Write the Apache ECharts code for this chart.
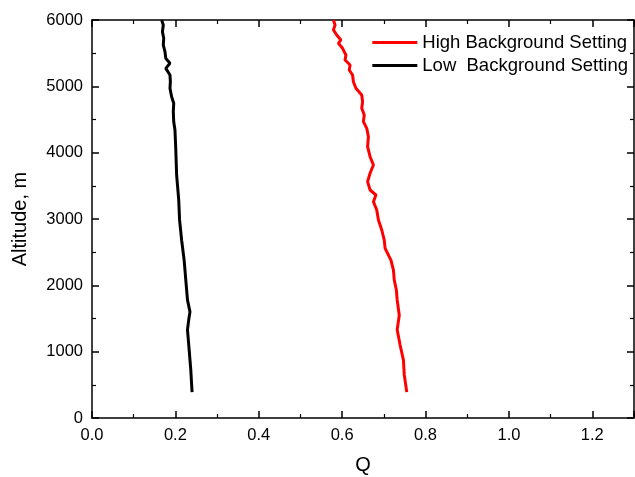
<!DOCTYPE html>
<html>
<head>
<meta charset="utf-8">
<script src="https://cdn.jsdelivr.net/npm/echarts@6/dist/echarts.min.js"></script>
<style>
  html, body { margin: 0; padding: 0; background: #fff; }
  #chart { width: 635px; height: 477px; }
</style>
</head>
<body>
<div id="chart"></div>
<script>
// altitude (m) and Q
var highAlt = [6000, 5925, 5850, 5774, 5699, 5649, 5573, 5472, 5397, 5322, 5246, 5171, 5070, 4970, 4869, 4769, 4669, 4568, 4467, 4367, 4241, 4090, 3939, 3814, 3689, 3563, 3437, 3362, 3261, 3136, 2985, 2834, 2683, 2558, 2380, 2230, 2080, 1930, 1780, 1550, 1330, 1100, 870, 650, 390];
var highQ = [0.579, 0.583, 0.579, 0.587, 0.597, 0.591, 0.601, 0.609, 0.607, 0.619, 0.617, 0.625, 0.627, 0.633, 0.647, 0.649, 0.647, 0.653, 0.651, 0.659, 0.663, 0.661, 0.667, 0.675, 0.667, 0.661, 0.667, 0.681, 0.675, 0.683, 0.687, 0.695, 0.701, 0.703, 0.717, 0.723, 0.725, 0.730, 0.732, 0.737, 0.732, 0.739, 0.747, 0.749, 0.755];

var lowAlt = [6000, 5925, 5824, 5724, 5623, 5522, 5422, 5347, 5271, 5171, 5070, 4970, 4844, 4744, 4618, 4467, 4342, 4040, 3660, 3290, 2990, 2680, 2380, 2080, 1780, 1600, 1480, 1330, 1030, 720, 390];
var lowQ = [0.167, 0.171, 0.169, 0.172, 0.171, 0.175, 0.177, 0.187, 0.177, 0.187, 0.188, 0.187, 0.191, 0.196, 0.195, 0.196, 0.199, 0.201, 0.203, 0.208, 0.210, 0.215, 0.221, 0.225, 0.229, 0.235, 0.232, 0.229, 0.233, 0.237, 0.240];

var xTicks = ['0.0', '0.2', '0.4', '0.6', '0.8', '1.0', '1.2'];
var yTicks = [0, 1000, 2000, 3000, 4000, 5000, 6000];

function pairs(qs, alts) {
  return qs.map(function (q, i) { return [q, alts[i]]; });
}

var FONT = 'Liberation Sans, Arial, sans-serif';

function axisLine() {
  return { show: true, onZero: false, lineStyle: { color: '#000', width: 1.5 } };
}
function tickIn() {
  return { show: true, inside: true, length: 7, lineStyle: { color: '#000', width: 1.5 } };
}
function minorIn() {
  return { show: true, splitNumber: 2, length: 4, lineStyle: { color: '#000', width: 1.2 } };
}

var chart = echarts.init(document.getElementById('chart'));

var option = {
  animation: false,
  backgroundColor: '#fff',
  grid: { left: 92, right: 1, top: 20, bottom: 59, containLabel: false, outerBoundsMode: 'none' },
  legend: {
    orient: 'vertical',
    right: 7,
    top: 33,
    padding: 0,
    itemGap: 4,
    itemWidth: 45,
    itemHeight: 3,
    icon: 'rect',
    textStyle: { color: '#000', fontSize: 18.5, fontFamily: FONT, padding: [0, 0, 0, 0] },
    data: ['High Background Setting', 'Low  Background Setting']
  },
  xAxis: [{
    type: 'value',
    min: 0,
    max: 1.3,
    interval: 0.2,
    position: 'bottom',
    name: 'Q',
    nameLocation: 'middle',
    nameGap: 37,
    nameTextStyle: { color: '#000', fontSize: 20, fontFamily: FONT },
    axisLine: axisLine(),
    axisTick: tickIn(),
    minorTick: minorIn(),
    splitLine: { show: false },
    axisLabel: {
      margin: 9,
      color: '#000',
      fontSize: 16.5,
      fontFamily: FONT,
      formatter: function (v) { var s = v.toFixed(1); return xTicks.indexOf(s) >= 0 ? s : ''; }
    }
  }, {
    type: 'value',
    min: 0,
    max: 1.3,
    interval: 0.2,
    position: 'top',
    axisLine: axisLine(),
    axisTick: tickIn(),
    minorTick: minorIn(),
    splitLine: { show: false },
    axisLabel: { show: false }
  }],
  yAxis: [{
    type: 'value',
    min: 0,
    max: 6000,
    interval: 1000,
    position: 'left',
    name: 'Altitude, m',
    nameLocation: 'middle',
    nameGap: 62,
    nameTextStyle: { color: '#000', fontSize: 20, fontFamily: FONT },
    axisLine: axisLine(),
    axisTick: tickIn(),
    minorTick: minorIn(),
    splitLine: { show: false },
    axisLabel: {
      margin: 9,
      color: '#000',
      fontSize: 16.5,
      fontFamily: FONT,
      formatter: function (v) { return yTicks.indexOf(v) >= 0 ? String(v) : ''; }
    }
  }, {
    type: 'value',
    min: 0,
    max: 6000,
    interval: 1000,
    position: 'right',
    axisLine: axisLine(),
    axisTick: tickIn(),
    minorTick: minorIn(),
    splitLine: { show: false },
    axisLabel: { show: false }
  }],
  series: [{
    name: 'High Background Setting',
    type: 'line',
    data: pairs(highQ, highAlt),
    showSymbol: false,
    color: '#ff0000',
    lineStyle: { color: '#ff0000', width: 3 }
  }, {
    name: 'Low  Background Setting',
    type: 'line',
    data: pairs(lowQ, lowAlt),
    showSymbol: false,
    color: '#000000',
    lineStyle: { color: '#000000', width: 3 }
  }]
};

chart.setOption(option);
</script>
</body>
</html>
